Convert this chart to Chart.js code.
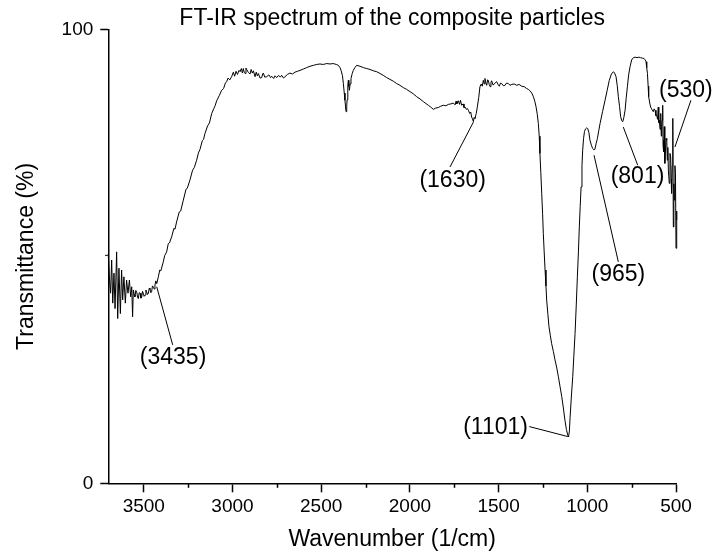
<!DOCTYPE html>
<html><head><meta charset="utf-8">
<script src="https://cdn.jsdelivr.net/npm/chart.js@4.4.1/dist/chart.umd.min.js"></script>
<style>html,body{margin:0;padding:0;background:#fff;}canvas{display:block;}</style>
</head><body>
<canvas id="c" width="719" height="555"></canvas>
<script>
const wavenumber = [
3718,3700,3694,3687,3681,3675,3668,3662,3653,3647,3640,3632,3625,3619,3612,3604,3597,3589,3581,3574,3568,3563,3559,3554,3550,3545,3540,3535,3531,3526,3521,3516,3512,3507,3503,3498,3493,3488,3484,3479,3474,3469,3465,3460,3456,3451,3446,3441,3437,3432,3427,
3418,3410,3404,3390,3382,3371,3362,3355,3343,3330,3324,3315,3300,3292,3277,3262,3255,3240,3225,3215,3202,3192,3183,3170,3163,3155,3140,3130,3117,3105,3098,3089,3075,3061,3050,3040,3033,3025,3015,3005,
2995,2988,2980,2972,2963,2957,2950,2944,2939,2934,2929,2924,2920,2910,2901,2895,2888,2882,2873,2866,2860,2854,2845,2835,2830,2826,2818,2807,2795,2785,2779,2768,2760,2751,2740,2730,2723,2712,2704,2690,2676,2662,2648,2633,2619,2600,2582,2563,2544,2525,2507,2488,2469,2450,2432,2415,2403,
2394,2388,2380,2375,2370,2366,2360,2356,2354,2350,2347,2344,2341,2337,2332,2325,2319,2310,2300,
2281,2262,2243,2225,2206,2187,2168,2150,2131,2112,2093,2075,2056,2037,2018,1999,1980,1962,1943,1924,1910,1896,1882,1868,1854,1840,1826,1811,1797,1783,1769,1755,1745,1740,1735,1727,1720,1715,1708,1700,1695,1689,1682,1676,1670,1663,1657,1652,1647,1642,1638,1633,1626,1620,1612,1605,
1598,1592,1586,1581,1577,1572,1567,1562,1558,1553,1548,1543,1539,1532,1526,1518,1511,1503,1496,1489,1483,1473,1464,1455,1445,1436,1426,1412,1398,1384,1370,1356,1342,1332,1323,1313,1304,1296,1289,1282,1276,1271,1267,1262,1257,1252,1248,1243,1238,1233,1229,1222,1216,1208,1201,1191,1182,1172,1163,1154,1144,1135,1126,1118,1110,1106,
1101,1097,1090,1082,1076,1069,1062,1056,1050,1045,1040,1035,1030,1026,1021,1016,1010,1004,998,991,985,977,970,964,957,950,943,935,928,914,900,888,876,864,853,846,838,831,825,818,812,806,800,794,787,781,774,767,759,750,740,730,720,710,700,690,680,674,669,665,661,657,654,648,643,636,628,623,618,613,609,604,600,597,594,590,586,583,581,578,575,573,571,568,566,563,560,556,552,549,546,543,538,534,530,527,525,521,518,515,512,509,506,503,500,497,495
];
const transmittance = [
50.2,50.3,45.5,41.9,49.2,39.7,46.3,38.5,51.0,36.3,47.4,37.4,47.0,40.4,45.5,39.7,44.8,41.9,44.8,41.1,43.3,36.7,42.6,41.6,41.1,42.5,42.2,41.0,40.7,42.0,41.9,40.8,41.0,42.3,41.9,41.2,41.5,42.6,42.2,41.6,41.9,43.0,42.7,42.0,42.2,43.5,43.2,42.8,43.7,44.6,44.0,
45.5,47.0,46.8,48.8,50.2,51.0,52.8,53.0,54.3,56.2,56.0,57.6,59.8,60.0,62.4,64.8,65.0,66.8,69.0,69.6,71.2,72.8,73.6,75.5,75.8,77.1,78.8,79.4,81.5,82.6,83.2,84.3,85.4,86.6,87.0,88.2,88.5,89.3,88.9,89.6,
90.6,89.7,90.8,90.1,91.0,90.7,91.4,90.4,91.4,90.6,90.3,91.5,91.2,90.5,90.2,91.2,90.4,90.9,89.6,90.6,89.8,90.3,89.3,89.4,90.2,90.4,89.5,89.6,90.0,89.4,89.7,89.2,89.8,89.4,89.9,89.5,89.9,89.3,89.6,90.1,90.4,90.2,90.6,90.8,91.0,91.3,91.6,91.9,92.1,92.3,92.4,92.3,92.5,92.4,92.5,92.3,92.1,
91.6,91.0,89.8,88.1,86.0,84.4,81.9,83.0,84.5,87.6,88.8,87.5,86.6,88.0,89.2,90.3,91.0,91.6,92.1,
91.9,91.6,91.4,91.2,90.9,90.7,90.3,89.9,89.4,89.0,88.6,88.1,87.7,87.2,86.8,86.3,85.8,85.2,84.7,84.1,83.7,83.3,82.9,82.4,82.7,82.8,83.1,83.3,83.2,83.5,83.6,83.8,83.4,84.2,83.6,84.3,83.5,84.4,83.3,83.6,82.8,82.9,82.4,82.6,82.2,81.5,81.8,80.7,80.3,79.7,80.6,80.4,81.5,82.9,85.0,87.4,
88.0,87.5,88.8,88.0,89.2,88.3,87.7,88.9,88.8,87.9,87.4,88.3,88.7,87.8,87.9,88.3,88.5,87.9,87.5,88.2,88.1,87.6,87.7,88.2,88.1,87.7,87.9,88.0,87.7,87.9,87.5,87.4,87.0,86.8,86.5,86.0,85.2,84.2,83.0,81.3,79.3,76.5,72.7,68.5,63.9,59.5,55.1,51.0,47.0,43.5,40.4,37.2,34.5,32.5,30.8,29.0,27.2,25.4,23.5,21.4,19.1,16.6,13.9,11.9,10.6,10.2,
11.5,14.5,19.0,23.5,28.0,33.0,39.5,45.5,51.0,56.5,61.0,65.3,70.0,73.4,76.0,77.5,78.1,78.3,78.2,77.3,75.6,74.5,73.8,73.5,73.6,74.9,76.0,77.8,79.3,81.9,84.4,86.6,88.8,90.2,90.7,90.4,89.6,87.6,85.2,83.0,80.8,79.9,79.7,80.6,82.2,84.8,87.4,90.0,91.8,93.3,93.8,93.9,93.8,93.9,93.8,93.7,93.6,93.3,92.9,91.6,90.3,87.5,85.2,83.8,82.9,82.4,81.9,82.5,82.2,81.0,81.1,80.2,82.9,79.5,80.0,78.0,81.5,76.5,78.6,80.0,83.3,74.5,75.6,73.0,78.6,70.5,72.7,76.0,75.6,71.2,74.0,69.0,66.1,72.7,71.9,67.0,63.9,70.0,80.4,56.5,66.0,62.4,70.0,68.3,51.8,60.0,58.0
];
const xMajorTicks = [3500, 3000, 2500, 2000, 1500, 1000, 500];
const xMinorTicks = [3250, 2750, 2250, 1750, 1250, 750];
const yTicks = [0, 100];
const peakLabels = ['(3435)', '(1630)', '(1101)', '(965)', '(801)', '(530)'];
const peakTextX = [3335, 1759, 1517, 825, 717, 444];
const peakTextY = [27.6, 66.6, 12.2, 45.9, 67.5, 86.6];
const leaderFromX = [3427, 1642, 1110, 962, 797, 506];
const leaderFromY = [43.3, 79.6, 10.3, 72.3, 78.5, 74.1];
const leaderToX = [3337, 1774, 1327, 825, 716, 416];
const leaderToY = [30.5, 69.7, 12.5, 48.8, 70.1, 84.4];

const FONT = "'Liberation Sans', Arial, Helvetica, sans-serif";
Chart.defaults.color = '#000';
Chart.defaults.font.family = FONT;

const points = wavenumber.map((w, i) => ({x: w, y: transmittance[i]}));

const extrasPlugin = {
  id: 'extras',
  afterDraw(chart) {
    const {ctx, chartArea, scales} = chart;
    const xs = scales.x, ys = scales.y;
    ctx.save();
    // minor ticks
    ctx.strokeStyle = '#000';
    ctx.lineWidth = 1.5;
    xMinorTicks.forEach(v => {
      const px = Math.round(xs.getPixelForValue(v)) + 0.5;
      ctx.beginPath();
      ctx.moveTo(px, chartArea.bottom);
      ctx.lineTo(px, chartArea.bottom + 4.5);
      ctx.stroke();
    });
    // annotations
    ctx.lineWidth = 1;
    ctx.fillStyle = '#000';
    ctx.font = '23px ' + FONT;
    ctx.textAlign = 'center';
    ctx.textBaseline = 'middle';
    peakLabels.forEach((t, i) => {
      ctx.beginPath();
      ctx.moveTo(xs.getPixelForValue(leaderFromX[i]), ys.getPixelForValue(leaderFromY[i]));
      ctx.lineTo(xs.getPixelForValue(leaderToX[i]), ys.getPixelForValue(leaderToY[i]));
      ctx.stroke();
      ctx.fillText(t, xs.getPixelForValue(peakTextX[i]), ys.getPixelForValue(peakTextY[i]));
    });
    ctx.restore();
  }
};

new Chart(document.getElementById('c'), {
  type: 'line',
  data: {
    datasets: [{
      data: points,
      borderColor: '#000',
      borderWidth: 1,
      pointRadius: 0,
      tension: 0,
      fill: false,
      clip: {left: 4, right: 3, top: 0, bottom: 0}
    }]
  },
  options: {
    responsive: false,
    animation: false,
    devicePixelRatio: 1,
    layout: {padding: {left: 0, right: 43, top: 0, bottom: 0}},
    plugins: {
      legend: {display: false},
      tooltip: {enabled: false},
      title: {
        display: true,
        text: 'FT-IR spectrum of the composite particles',
        color: '#000',
        fullSize: false,
        font: {size: 23, weight: 'normal', family: FONT, lineHeight: 0.935},
        padding: {top: 8, bottom: 0}
      }
    },
    scales: {
      x: {
        type: 'linear',
        min: 500, max: 3700,
        reverse: true,
        afterBuildTicks: s => { s.ticks = xMajorTicks.map(v => ({value: v})); },
        afterFit: s => { s.height = 71.7; s.paddingLeft = 0; s.paddingRight = 0; },
        ticks: {
          autoSkip: false, maxRotation: 0, padding: 3,
          font: {size: 19, family: FONT},
          color: '#000',
          callback: v => String(v)
        },
        grid: {drawOnChartArea: false, drawTicks: true, tickLength: 9, tickWidth: 1.5, tickColor: '#000'},
        border: {display: true, color: '#000', width: 1.5},
        title: {
          display: true, text: 'Wavenumber (1/cm)', color: '#000',
          font: {size: 23, family: FONT},
          padding: {top: 0, bottom: 1.2}
        }
      },
      y: {
        type: 'linear',
        min: 0, max: 100,
        afterBuildTicks: s => { s.ticks = yTicks.map(v => ({value: v})); },
        afterFit: s => { s.width = 108.3; s.paddingTop = 0; s.paddingBottom = 0; },
        ticks: {
          padding: 7,
          font: {size: 19, family: FONT},
          color: '#000',
          callback: v => String(v)
        },
        grid: {drawOnChartArea: false, drawTicks: true, tickLength: 8, tickWidth: 1.5, tickColor: '#000'},
        border: {display: true, color: '#000', width: 1.5},
        title: {
          display: true, text: 'Transmittance (%)', color: '#000',
          font: {size: 23, family: FONT},
          padding: {top: 13.2, bottom: 0}
        }
      }
    }
  },
  plugins: [extrasPlugin]
});
</script>
</body></html>
